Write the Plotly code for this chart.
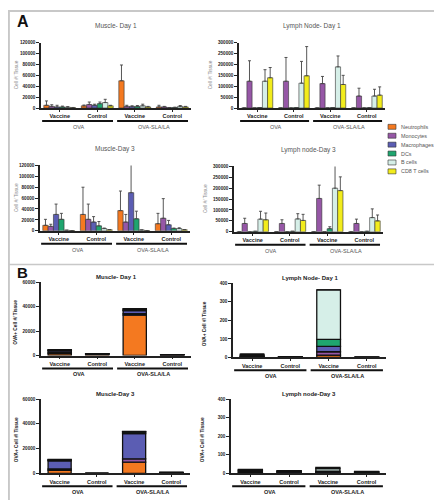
import numpy as np
import plotly.graph_objects as go

W, H = 442, 500

cells = ["Neutrophils", "Monocytes", "Macrophages", "DCs", "B cells", "CD8 T cells"]
colors = ["#F47920", "#9657A6", "#5B5DB3", "#1FA56F", "#D6EFE8", "#F2EC1C"]
groups = ["OVA", "OVA-SLA/LA"]
conds = ["Vaccine", "Control"]
x_idx = [0, 1, 2, 3]  # OVA Vaccine, OVA Control, OVA-SLA/LA Vaccine, OVA-SLA/LA Control

# ---- Panel A (mean, upper error) rows = cell types ----
mus_d1_mean = [[5000, 4000, 50000, 2000], [3000, 6500, 3000, 2000], [2000, 5000, 3000, 500],
               [2000, 8000, 3000, 1000], [1500, 10000, 4000, 3000], [500, 4000, 2000, 2000]]
mus_d1_err = [[8000, 1500, 29000, 3000], [3000, 4500, 2000, 1000], [3000, 2000, 1000, 500],
              [1500, 3000, 1500, 500], [1000, 6000, 3000, 1500], [500, 1000, 1000, 1000]]

ln_d1_mean = [[0, 0, 0, 0], [123000, 123000, 112000, 55000], [0, 0, 0, 0],
              [2000, 2000, 2000, 1000], [123000, 114000, 189000, 55000], [139000, 148000, 108000, 59000]]
ln_d1_err = [[0, 0, 0, 0], [94000, 109000, 33000, 36000], [0, 0, 0, 0],
             [0, 0, 0, 0], [53000, 100000, 50000, 31000], [47000, 134000, 42000, 38000]]

mus_d3_mean = [[10000, 30000, 37000, 13000], [8000, 21000, 16000, 23000], [30000, 16000, 70000, 11000],
               [21000, 9000, 22000, 4000], [1000, 4000, 1500, 4000], [500, 2000, 500, 2000]]
mus_d3_err = [[11000, 50000, 36000, 19000], [4000, 28000, 14000, 36000], [19000, 10000, 55000, 8000],
              [11000, 8000, 14000, 1000], [0, 1000, 0, 1500], [0, 0, 0, 0]]

ln_d3_mean = [[0, 0, 0, 0], [38000, 38000, 153000, 38000], [0, 0, 0, 0],
              [2000, 2000, 14000, 2000], [58000, 59000, 200000, 65000], [55000, 52000, 189000, 50000]]
ln_d3_err = [[0, 0, 0, 0], [24000, 17000, 61000, 20000], [0, 0, 0, 0],
             [0, 0, 9000, 0], [36000, 24000, 118000, 40000], [31000, 28000, 63000, 27000]]

# ---- Panel B (OVA+ cells, stacked) ----
b_mus_d1 = [[1500, 1000, 33000, 300], [800, 300, 1200, 200], [1500, 200, 2500, 100],
            [300, 50, 500, 50], [500, 50, 800, 100], [200, 0, 400, 50]]
b_ln_d1 = [[2, 0.5, 13, 0.2], [2, 0.5, 18, 0.2], [2, 0.5, 29, 0.2],
           [6, 1, 38, 0.2], [6, 1.5, 266, 0.5], [0, 0, 0, 0]]
b_mus_d3 = [[2500, 0, 9000, 300], [1000, 0, 2700, 200], [6500, 0, 20300, 100],
            [500, 0, 1300, 100], [500, 0, 400, 50], [200, 0, 200, 50]]
b_ln_d3 = [[4, 3, 3, 2], [4, 3, 3, 2], [4, 3, 3, 2],
           [4, 2, 3, 2], [3, 2, 14, 1], [2, 1, 6, 1]]

# subplot specs: title, x0px, x1px, ytop px, ybottom px, ymax, dtick, kind, data, err
panels = [
    ("Muscle- Day 1", 33, 183, 33, 99, 120000, 20000, "A", mus_d1_mean, mus_d1_err),
    ("Lymph Node- Day 1", 231, 377, 33, 99, 300000, 50000, "A", ln_d1_mean, ln_d1_err),
    ("Muscle-Day 3", 32, 182, 157, 223, 120000, 20000, "A", mus_d3_mean, mus_d3_err),
    ("Lymph node-Day 3", 226, 375, 158, 224, 300000, 50000, "A", ln_d3_mean, ln_d3_err),
    ("Muscle- Day 1", 33, 183, 275, 349, 60000, 20000, "B", b_mus_d1, None),
    ("Lymph Node- Day 1", 225, 378, 276, 351, 400, 100, "B", b_ln_d1, None),
    ("Muscle-Day 3", 33, 182, 393, 468, 60000, 20000, "B", b_mus_d3, None),
    ("Lymph node-Day 3", 223, 378, 393, 468, 400, 100, "B", b_ln_d3, None),
]

FONT = "Liberation Sans"


def fx(px):
    return px / W


def fy(py):
    return 1 - py / H


fig = go.Figure()
annotations = []
shapes = []

for i, (title, x0, x1, yt, yb, ymax, dtick, kind, data, err) in enumerate(panels):
    n = i + 1
    xa = "x" if n == 1 else f"x{n}"
    ya = "y" if n == 1 else f"y{n}"
    if kind == "A":
        for c, name in enumerate(cells):
            fig.add_trace(go.Bar(
                x=x_idx, y=data[c], name=name, xaxis=xa, yaxis=ya, showlegend=False,
                marker=dict(color=colors[c], line=dict(color="#333333", width=0.6)),
                error_y=dict(type="data", array=err[c], arrayminus=[0] * 4, symmetric=False,
                             color="#444444", thickness=0.9, width=1.5),
            ))
    else:
        arr = np.array(data, dtype=float)
        bases = np.vstack([np.zeros(4), np.cumsum(arr, axis=0)[:-1]])
        for c, name in enumerate(cells):
            fig.add_trace(go.Bar(
                x=x_idx, y=arr[c], base=bases[c], name=name, xaxis=xa, yaxis=ya,
                showlegend=False, offsetgroup=f"stack{n}", width=0.62,
                marker=dict(color=colors[c], line=dict(color="#111111", width=1.3)),
            ))

    fig.layout[("xaxis" if n == 1 else f"xaxis{n}")] = dict(
        domain=[fx(x0), fx(x1)], anchor=ya, range=[-0.5, 3.5],
        tickvals=x_idx, ticktext=conds * 2, tickfont=dict(family=FONT, size=5.5, color="#222222", weight="bold"),
        showline=True, linecolor="#222222", linewidth=1.5, ticks="outside", ticklen=2,
        tickcolor="#222222", showgrid=False, zeroline=False, fixedrange=True,
    )
    fig.layout[("yaxis" if n == 1 else f"yaxis{n}")] = dict(
        domain=[fy(yb), fy(yt)], anchor=xa, range=[0, ymax], tick0=0, dtick=dtick,
        tickformat="d", tickfont=dict(family=FONT, size=4.6, color="#222222", weight="bold"),
        showline=True, linecolor="#222222", linewidth=1.5, ticks="outside", ticklen=3,
        tickcolor="#222222", showgrid=False, zeroline=False, fixedrange=True,
    )

    bold = kind == "B"
    annotations.append(dict(
        text=title, x=fx((x0 + x1) / 2), y=fy(yt - 17 if kind == "A" else yt - 5), xref="paper", yref="paper",
        showarrow=False, xanchor="center", yanchor="middle",
        font=dict(family=FONT, size=6.5 if kind == "A" else 6, color="#555555" if kind == "A" else "#222222",
                  weight="bold" if bold else "normal"),
    ))
    ytitle_x = 8 if x0 < 100 else x0 - 29
    annotations.append(dict(
        text="Cell #/ Tissue" if kind == "A" else "OVA+ Cell #/ Tissue",
        x=fx(ytitle_x), y=fy((yt + yb) / 2 + (4 if kind == "B" else 0)), xref="paper", yref="paper",
        textangle=-90, showarrow=False, xanchor="center", yanchor="middle",
        font=dict(family=FONT, size=4.8, color="#888888" if kind == "A" else "#222222",
                  weight="bold" if bold else "normal"),
    ))
    for g, gname in enumerate(groups):
        shapes.append(dict(
            type="line", xref=xa, yref="paper", x0=2 * g - 0.47, x1=2 * g + 1.42,
            y0=fy(yb + 13), y1=fy(yb + 13), line=dict(color="#111111", width=2),
        ))
        annotations.append(dict(
            text=gname, x=2 * g + 0.5, y=fy(yb + 19), xref=xa, yref="paper", showarrow=False,
            xanchor="center", yanchor="middle",
            font=dict(family=FONT, size=5.5, color="#555555" if kind == "A" else "#222222",
                      weight="bold" if bold else "normal"),
        ))

# manual legend
for c, name in enumerate(cells):
    yy = 118 + 9 * c
    shapes.append(dict(type="rect", xref="paper", yref="paper", x0=fx(380), x1=fx(388),
                       y0=fy(yy + 2.5), y1=fy(yy - 2.5), fillcolor=colors[c],
                       line=dict(color="#333333", width=0.6)))
    annotations.append(dict(text=name, x=fx(391), y=fy(yy), xref="paper", yref="paper", showarrow=False,
                            xanchor="left", yanchor="middle",
                            font=dict(family=FONT, size=5.4, color="#555555")))

# panel letters
annotations.append(dict(text="<b>A</b>", x=fx(7), y=fy(12), xref="paper", yref="paper", showarrow=False,
                        xanchor="left", yanchor="middle", font=dict(family=FONT, size=16, color="#111111")))
annotations.append(dict(text="<b>B</b>", x=fx(7), y=fy(265), xref="paper", yref="paper", showarrow=False,
                        xanchor="left", yanchor="middle", font=dict(family=FONT, size=15, color="#111111")))

# frame & separator
shapes.append(dict(type="rect", xref="paper", yref="paper", x0=0.002, x1=0.998, y0=0.003, y1=0.998,
                   line=dict(color="#C8C8C8", width=2)))
shapes.append(dict(type="line", xref="paper", yref="paper", x0=0, x1=1, y0=fy(257), y1=fy(257),
                   line=dict(color="#C8C8C8", width=1.5)))

fig.update_layout(
    width=W, height=H, margin=dict(l=0, r=0, t=0, b=0),
    paper_bgcolor="white", plot_bgcolor="white",
    barmode="group", bargap=0.15, bargroupgap=0,
    showlegend=False, annotations=annotations, shapes=shapes,
    font=dict(family=FONT),
)

fig.write_html("out.html")
